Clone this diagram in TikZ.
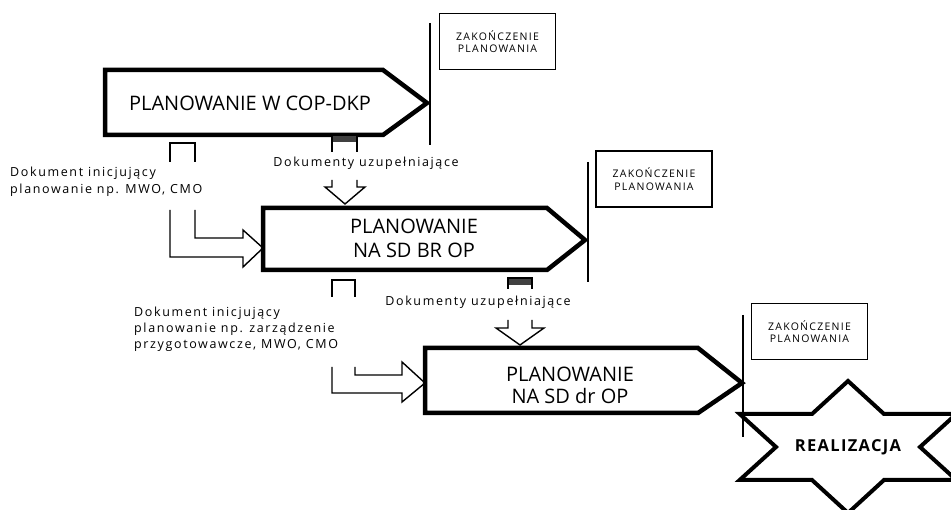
\documentclass[tikz,border=0pt]{standalone}
\usepackage{fontspec}
\setmainfont{Open Sans}
\newfontfamily\smallf[LetterSpace=13]{Open Sans}
\newfontfamily\boxf[LetterSpace=12]{Open Sans}
\newfontfamily\realf[LetterSpace=8]{Open Sans}
\begin{document}
\begin{tikzpicture}[x=1pt,y=-1pt,
  bigarrow/.style={draw=black,line width=4.5pt,line join=miter,fill=white},
  hollow/.style={draw=black,line width=1.4pt,line join=miter},
  endline/.style={draw=black,line width=1.5pt},
  endbox/.style={draw=black,line width=1.2pt,minimum width=116pt,minimum height=56pt,inner sep=0pt,align=center,font=\boxf\fontsize{10.5}{12.5}\selectfont},
  bigtext/.style={font=\fontsize{20}{24}\selectfont,align=center,inner sep=0pt},
  lbl/.style={font=\smallf\fontsize{12.5}{17.5}\selectfont,align=left,inner sep=0pt,anchor=west},
  doclbl/.style={font=\smallf\fontsize{12.5}{14}\selectfont,inner sep=0pt},
  starstyle/.style={draw=black,line width=4pt,line join=miter,fill=white},
  darktop/.style={fill=black!75}
]
\useasboundingbox (0,0) rectangle (951,510);

% ---------- Arrow 1 ----------
\draw[bigarrow] (105,70) -- (383,70) -- (427,103) -- (383,135) -- (105,135) -- cycle;
\node[bigtext] (t1) at (250,103) {PLANOWANIE W COP-DKP};
\node[endbox] (z1) at (497.5,41.5) {ZAKOŃCZENIE\\PLANOWANIA};
\coordinate (v1a) at (430,23);
\coordinate (v1b) at (430,145);
\draw[endline] (v1a) -- (v1b);

% initiating document 1
\node[lbl] (l1) at (10,182) {Dokument inicjujący\\planowanie np. MWO, CMO};
\draw[hollow] (170,162) -- (170,143) -- (195,143) -- (195,162);
\draw[hollow] (195,210) -- (195,238) -- (243,238) -- (243,230) -- (263,248) -- (243,267) -- (243,257) -- (170,257) -- (170,210);

% supplementary documents 1
\fill[darktop] (332,135) rectangle (357,142);
\draw[hollow] (332,152) -- (332,135) -- (357,135) -- (357,152);
\node[doclbl] (d1) at (366,163) {Dokumenty uzupełniające};
\draw[hollow] (332,180) -- (332,187) -- (325,187) -- (345,204) -- (365,187) -- (357,187) -- (357,180);

% ---------- Arrow 2 ----------
\draw[bigarrow] (263,208) -- (547,208) -- (585,240) -- (547,270) -- (263,270) -- cycle;
\node[bigtext] (t2) at (414,238) {PLANOWANIE\\NA SD BR OP};
\node[endbox] (z2) at (654,179) {ZAKOŃCZENIE\\PLANOWANIA};
\coordinate (v2a) at (588,162);
\coordinate (v2b) at (588,282);
\draw[endline] (v2a) -- (v2b);

% initiating document 2
\node[lbl,font=\smallf\fontsize{12.5}{16}\selectfont] (l2) at (134,329) {Dokument inicjujący\\planowanie np. zarządzenie\\przygotowawcze, MWO, CMO};
\draw[hollow] (332,297) -- (332,280) -- (355,280) -- (355,297);
\draw[hollow] (355,367) -- (355,375) -- (402,375) -- (402,362) -- (425,383) -- (402,402) -- (402,393) -- (332,393) -- (332,367);

% supplementary documents 2
\fill[darktop] (508,278) rectangle (532,285);
\draw[hollow] (508,289) -- (508,278) -- (532,278) -- (532,289);
\node[doclbl] (d2) at (478,302) {Dokumenty uzupełniające};
\draw[hollow] (508,320) -- (508,328) -- (496,328) -- (520,345) -- (544,328) -- (532,328) -- (532,320);

% ---------- Arrow 3 ----------
\draw[bigarrow] (425,348) -- (698,348) -- (742,383) -- (698,413) -- (425,413) -- cycle;
\node[bigtext,font=\fontsize{20}{22}\selectfont] (t3) at (570,385) {PLANOWANIE\\NA SD dr OP};
\node[endbox] (z3) at (809.5,331.5) {ZAKOŃCZENIE\\PLANOWANIA};

% ---------- Star ----------
\draw[starstyle] (848,381) -- (884,414) -- (956.3,414) -- (920,447) -- (956.3,480) -- (884,480)
  -- (848,513) -- (812,480) -- (739.7,480) -- (776,447) -- (739.7,414) -- (812,414) -- cycle;
\node[font=\realf\bfseries\fontsize{16.5}{18}\selectfont,inner sep=0pt] (real) at (848,447) {REALIZACJA};

\coordinate (v3a) at (743,315);
\coordinate (v3b) at (743,437);
\draw[endline] (v3a) -- (v3b);
\end{tikzpicture}
\end{document}
